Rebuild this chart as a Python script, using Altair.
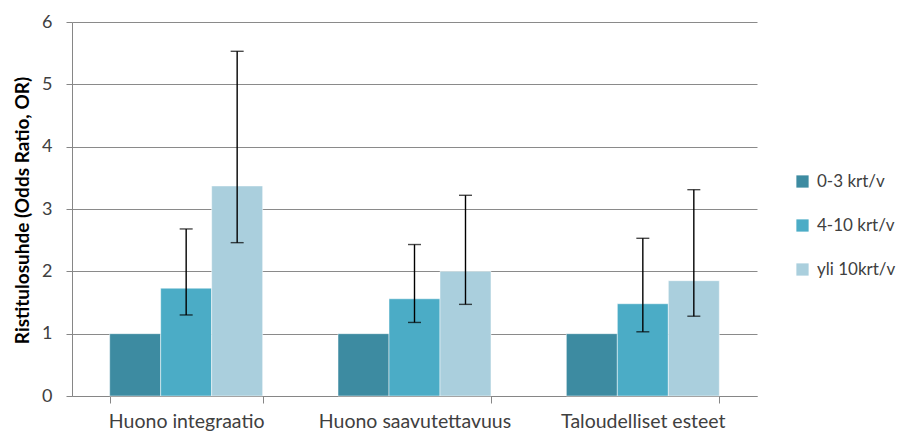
import altair as alt
import pandas as pd

categories = ["Huono integraatio", "Huono saavutettavuus", "Taloudelliset esteet"]
series = ["0-3 krt/v", "4-10 krt/v", "yli 10krt/v"]
values = [
    [1.0, 1.73, 3.37],
    [1.0, 1.56, 2.00],
    [1.0, 1.48, 1.85],
]
lower = [
    [None, 1.30, 2.46],
    [None, 1.18, 1.47],
    [None, 1.03, 1.28],
]
upper = [
    [None, 2.68, 5.53],
    [None, 2.43, 3.22],
    [None, 2.53, 3.31],
]
colors = ["#3d8ba1", "#4bacc6", "#aacfdd"]

rows = []
for i, c in enumerate(categories):
    for j, s in enumerate(series):
        rows.append({"cat": c, "ser": s, "val": values[i][j],
                     "lo": lower[i][j], "hi": upper[i][j]})
df = pd.DataFrame(rows)

FONT = "Lato"

x = alt.X("cat:N", sort=categories, title=None,
          scale=alt.Scale(paddingInner=0.33, paddingOuter=0.165),
          axis=alt.Axis(labelAngle=0, tickBand="extent", tickSize=7,
                        labelPadding=9, labelFontSize=19.5, labelColor="#404040",
                        labelFont=FONT, labelLimit=400,
                        domainColor="#868686", tickColor="#868686"))
xo = alt.XOffset("ser:N", sort=series)

y = alt.Y("val:Q", title="Ristitulosuhde (Odds Ratio, OR)",
          scale=alt.Scale(domain=[0, 6], nice=False),
          axis=alt.Axis(values=[0, 1, 2, 3, 4, 5, 6], format="d", tickSize=6,
                        labelPadding=14,
                        labelFontSize=18, labelColor="#404040", labelFont=FONT,
                        titleFont=FONT, titleFontSize=19, titleFontWeight="bold",
                        titleColor="#000000", titleX=-50, titleY=188,
                        titleAngle=270, titleAlign="center", titleBaseline="middle",
                        gridColor="#8a8a8a", domainColor="#868686", tickColor="#868686"))

bars = alt.Chart(df).mark_bar(stroke="white", strokeWidth=0.5).encode(
    x=x, xOffset=xo, y=y,
    color=alt.Color("ser:N", sort=series, title=None,
                    scale=alt.Scale(domain=series, range=colors),
                    legend=alt.Legend(orient="none", legendX=722, legendY=151,
                                      symbolType="square", symbolSize=150,
                                      symbolStrokeWidth=0, labelFontSize=17,
                                      labelFont=FONT, labelColor="#404040",
                                      rowPadding=26, padding=0, labelOffset=6)),
)

err_df = df.dropna()
rules = alt.Chart(err_df).mark_rule(color="black", strokeWidth=1.4).encode(
    x=alt.X("cat:N", sort=categories), xOffset=xo,
    y=alt.Y("lo:Q"), y2="hi:Q")
cap_lo = alt.Chart(err_df).mark_tick(color="black", thickness=1.4, size=13,
                                     orient="horizontal").encode(
    x=alt.X("cat:N", sort=categories), xOffset=xo, y=alt.Y("lo:Q"))
cap_hi = alt.Chart(err_df).mark_tick(color="black", thickness=1.4, size=13,
                                     orient="horizontal").encode(
    x=alt.X("cat:N", sort=categories), xOffset=xo, y=alt.Y("hi:Q"))

chart = alt.layer(bars, rules, cap_lo, cap_hi).properties(
    width=685, height=374,
    autosize=alt.AutoSizeParams(type="none"),
    padding={"left": 64, "top": 14, "right": 152, "bottom": 40},
).configure_view(stroke=None).configure_axis(grid=False).configure_axisY(grid=True)

chart.save("out.html", embed_options={"renderer": "svg", "actions": False})
